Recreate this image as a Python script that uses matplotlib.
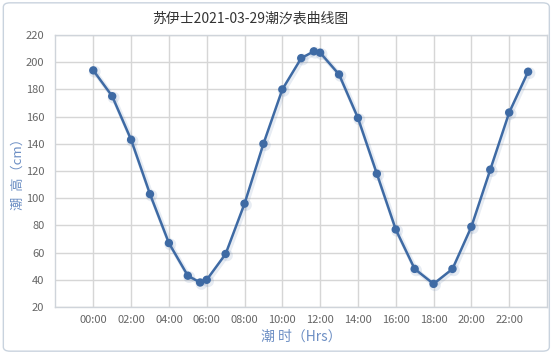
import matplotlib
matplotlib.use("Agg")
import matplotlib.pyplot as plt
import matplotlib.patheffects as pe
from matplotlib.patches import FancyBboxPatch

plt.rcParams['font.family'] = ['Noto Sans CJK SC', 'DejaVu Sans']

# Data
times = ["00:00", "01:00", "02:00", "03:00", "04:00", "05:00", "05:39", "06:00",
         "07:00", "08:00", "09:00", "10:00", "11:00", "11:40", "12:00", "13:00",
         "14:00", "15:00", "16:00", "17:00", "18:00", "19:00", "20:00", "21:00",
         "22:00", "23:00"]
heights = [194, 175, 143, 103, 67, 43, 38, 40, 59, 96, 140, 180, 203, 208, 207,
           191, 159, 118, 77, 48, 37, 48, 79, 121, 163, 193]
tick_labels = ["00:00", "02:00", "04:00", "06:00", "08:00", "10:00", "12:00",
               "14:00", "16:00", "18:00", "20:00", "22:00"]
y_ticks = [20, 40, 60, 80, 100, 120, 140, 160, 180, 200, 220]
title = "苏伊士2021-03-29潮汐表曲线图"
xlabel = "潮 时（Hrs）"
ylabel = "潮  高（cm）"

def to_hours(s):
    h, m = s.split(":")
    return int(h) + int(m) / 60.0

xs = [to_hours(t) for t in times]
tick_pos = [to_hours(t) for t in tick_labels]

fig = plt.figure(figsize=(5.56, 3.54), dpi=100)
fig.patch.set_facecolor("white")

# outer rounded border
border = FancyBboxPatch((0.006, 0.008), 0.982, 0.984,
                        boxstyle="round,pad=0,rounding_size=0.012",
                        transform=fig.transFigure, facecolor="none",
                        edgecolor="#c9d3de", linewidth=1.0, zorder=-5)
fig.patches.append(border)

ax = fig.add_axes([0.0998, 0.1328, 0.8840, 0.7683])
ax.set_facecolor("none")

line_color = "#3e6aa4"
ax.plot(xs, heights, color=line_color, linewidth=1.8, marker="o",
        markersize=5, markerfacecolor=line_color, markeredgecolor=line_color,
        zorder=3,
        path_effects=[pe.SimpleLineShadow(offset=(1, -1), shadow_color="#6080b0",
                                          alpha=0.15, linewidth=3.5),
                      pe.Normal()])

ax.set_xlim(-2, 24)
ax.set_ylim(20, 220)
ax.set_yticks(y_ticks)
ax.set_xticks(tick_pos)
ax.set_xticklabels(tick_labels)

ax.grid(True, color="#d6d6d6", linewidth=1.0, zorder=0)
ax.set_axisbelow(True)
for sp in ax.spines.values():
    sp.set_color("#cfd4da")
    sp.set_linewidth(1.0)
ax.tick_params(axis="both", length=0, labelsize=8, colors="#666666", pad=6)
ax.tick_params(axis="y", pad=8)

ax.set_xlabel(xlabel, fontsize=10, color="#6d8fc4", labelpad=3)
ax.set_ylabel(ylabel, fontsize=9.5, color="#6d8fc4")
ax.yaxis.set_label_coords(-0.062, 0.5)

fig.text(0.45, 0.948, title, ha="center", va="center", fontsize=10,
         color="#333333")

fig.savefig("out.png", dpi=100)
